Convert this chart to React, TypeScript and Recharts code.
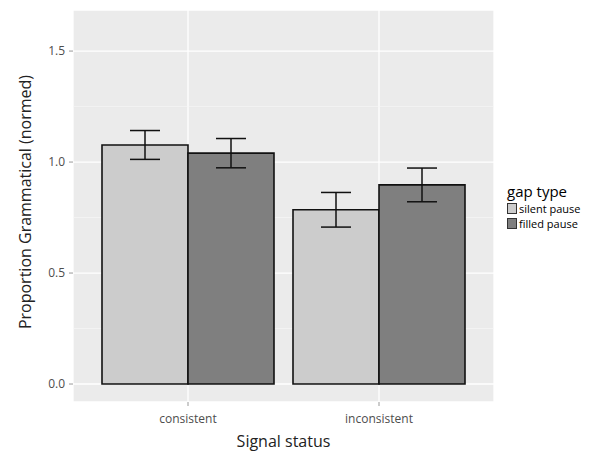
import React from 'react';
import { ComposedChart, Bar, XAxis, YAxis, CartesianGrid, ErrorBar } from 'recharts';

const categories = ['consistent', 'inconsistent'];
const silentPause = [1.077, 0.785];
const filledPause = [1.04, 0.897];
const silentErr = [0.065, 0.078];
const filledErr = [0.066, 0.076];
const yTicks = [0, 0.5, 1.0, 1.5];
const minorTicks = [0.25, 0.75, 1.25];
const seriesNames = ['silent pause', 'filled pause'];
const seriesColors = ['#CCCCCC', '#7F7F7F'];

const data = categories.map((c, i) => ({
  cat: c,
  silent: silentPause[i],
  silentE: silentErr[i],
  filled: filledPause[i],
  filledE: filledErr[i],
}));

const FONT = '"Open Sans", "DejaVu Sans", sans-serif';

const LegendBox = () => (
  <div style={{ position: 'absolute', left: 507, top: 181, fontFamily: FONT, color: '#000' }}>
    <div style={{ fontSize: 15, lineHeight: '20px' }}>gap type</div>
    {seriesNames.map((n, i) => (
      <div key={n} style={{ display: 'flex', alignItems: 'center', height: 15 }}>
        <div
          style={{
            width: 8,
            height: 9,
            background: seriesColors[i],
            border: '1px solid #333',
            marginRight: 2,
          }}
        />
        <span style={{ fontSize: 11, lineHeight: '15px' }}>{n}</span>
      </div>
    ))}
  </div>
);

const YLabel = (props: any) => {
  const { viewBox } = props;
  const cx = viewBox.x + 25;
  const cy = viewBox.y + viewBox.height / 2 - 4;
  return (
    <text
      x={cx}
      y={cy}
      transform={`rotate(-90, ${cx}, ${cy})`}
      textAnchor="middle"
      dominantBaseline="central"
      fontFamily={FONT}
      fontSize={16}
      fill="#222"
    >
      Proportion Grammatical (normed)
    </text>
  );
};

const XLabel = (props: any) => {
  const { viewBox } = props;
  const cx = viewBox.x + viewBox.width / 2;
  return (
    <text
      x={cx}
      y={viewBox.y + 45}
      textAnchor="middle"
      fontFamily={FONT}
      fontSize={16}
      fill="#222"
    >
      Signal status
    </text>
  );
};

export default function App() {
  return (
    <div style={{ position: 'absolute', left: 0, top: 0, width: 612, height: 453, background: '#fff' }}>
      <ComposedChart
        width={612}
        height={453}
        data={data}
        margin={{ top: 10, right: 118, bottom: 0, left: 0 }}
        barGap={0}
        barCategoryGap={9.5}
      >
        <CartesianGrid fill="#EBEBEB" stroke="#FFFFFF" strokeWidth={1.3} />
        <CartesianGrid
          fill="none"
          vertical={false}
          horizontalValues={minorTicks}
          stroke="#F6F6F6"
          strokeWidth={0.7}
        />
        <XAxis
          dataKey="cat"
          type="category"
          height={51}
          padding={{ left: 19.5, right: 19.5 }}
          axisLine={false}
          tickLine={{ stroke: '#999' }}
          tickSize={4}
          tickMargin={8}
          tick={{ fontFamily: FONT, fontSize: 12, fill: '#4D4D4D' }}
          label={<XLabel />}
        />
        <YAxis
          type="number"
          width={73}
          domain={[-0.081, 1.685]}
          ticks={yTicks}
          allowDataOverflow
          tickFormatter={(v: number) => v.toFixed(1)}
          axisLine={false}
          tickLine={{ stroke: '#999' }}
          tickSize={4}
          tickMargin={4}
          tick={{ fontFamily: FONT, fontSize: 12, fill: '#4D4D4D' }}
          label={<YLabel />}
        />
        <Bar dataKey="silent" name={seriesNames[0]} fill={seriesColors[0]} stroke="#111" strokeWidth={1.6} isAnimationActive={false}>
          <ErrorBar dataKey="silentE" width={15} stroke="#111" strokeWidth={1.5} />
        </Bar>
        <Bar dataKey="filled" name={seriesNames[1]} fill={seriesColors[1]} stroke="#111" strokeWidth={1.6} isAnimationActive={false}>
          <ErrorBar dataKey="filledE" width={15} stroke="#111" strokeWidth={1.5} />
        </Bar>
      </ComposedChart>
      <LegendBox />
    </div>
  );
}
